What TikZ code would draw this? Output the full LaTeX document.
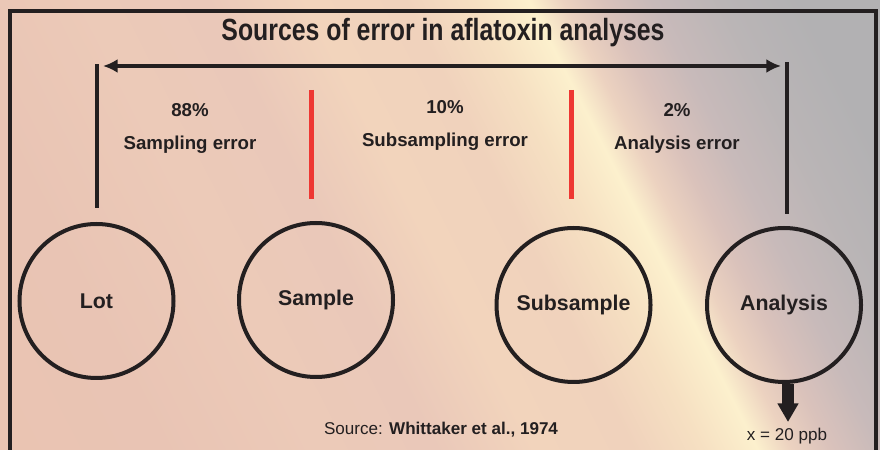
\documentclass[tikz,border=0pt]{standalone}
\usepackage{fontspec}
\setmainfont{Liberation Sans}
\newfontfamily\titulofont[FakeStretch=0.81]{Liberation Sans}
\usetikzlibrary{positioning}
\usetikzlibrary{arrows.meta}
\usetikzlibrary{calc}
\definecolor{figTinta}{RGB}{35,31,32}
\definecolor{figRojo}{RGB}{238,55,50}
\definecolor{fondoA}{RGB}{234,196,178}
\definecolor{fondoB}{RGB}{233,196,180}
\definecolor{fondoC}{RGB}{236,202,184}
\definecolor{fondoD}{RGB}{234,200,185}
\definecolor{fondoE}{RGB}{242,212,188}
\definecolor{fondoF}{RGB}{240,210,188}
\definecolor{fondoG}{RGB}{246,224,194}
\definecolor{fondoH}{RGB}{252,240,205}
\definecolor{fondoI}{RGB}{236,210,192}
\definecolor{fondoJ}{RGB}{218,194,187}
\definecolor{fondoK}{RGB}{200,186,186}
\definecolor{fondoL}{RGB}{186,181,182}
\definecolor{fondoM}{RGB}{178,177,179}
\pgfdeclarehorizontalshading{fondo}{100bp}{%
  color(0bp)=(fondoA); color(22bp)=(fondoA); color(30bp)=(fondoB);
  color(38bp)=(fondoC); color(44bp)=(fondoD); color(49bp)=(fondoE);
  color(54bp)=(fondoF); color(57.5bp)=(fondoG); color(60.3bp)=(fondoH);
  color(62bp)=(fondoI); color(64bp)=(fondoJ); color(66.5bp)=(fondoK);
  color(70bp)=(fondoL); color(74bp)=(fondoM); color(100bp)=(fondoM)}
\tikzset{
  etapa/.style={
    circle, draw=figTinta, line width=3pt, minimum size=115.5pt,
    inner sep=0pt, text=figTinta, font=\bfseries\fontsize{16}{19}\selectfont
  },
  rotulo/.style={
    inner sep=0pt, text=figTinta, font=\bfseries\fontsize{14}{17}\selectfont
  },
  nota/.style={
    inner sep=0pt, text=figTinta, font=\fontsize{12.8}{15}\selectfont
  },
  titulo/.style={
    inner sep=0pt, text=figTinta, font=\titulofont\bfseries\fontsize{23}{27}\selectfont
  },
  marco/.style={draw=figTinta, line width=3pt},
  barra/.style={draw=figTinta, line width=3pt},
  barraroja/.style={draw=figRojo, line width=3.75pt},
  flechadoble/.style={{Latex[length=11pt,width=10.5pt]}-{Latex[length=11pt,width=10.5pt]}, line width=3pt, draw=figTinta},
  flechagruesa/.style={-{Triangle[length=14pt,width=15pt]}, line width=9pt, draw=figTinta}
}
\begin{document}
\begin{tikzpicture}[x=0.75pt,y=0.75pt]
  \useasboundingbox (0,0) rectangle (880,449);
  \clip (0,0) rectangle (880,449);
  \shade[shading=fondo, shading angle=27] (0,-215.5) rectangle (880,664.5);
  \draw[marco] (10,-10) |- (876,438) -- (876,-10);

  \node[titulo] (titulo) at (443,416) {Sources of error in aflatoxin analyses};

  % etapas
  \node[etapa] (lot) at (96.5,148) {Lot};
  \node[etapa] (sample) at (316,149) {Sample};
  \node[etapa] (subsample) at (573.5,144) {Subsample};
  \node[etapa] (analysis) at (784,144) {Analysis};

  % barras y flecha superior
  \coordinate (izq) at (97,385);
  \coordinate (der) at (787,387);
  \draw[barra] ($(lot.north)+(0.5,14)$) -- (izq);
  \draw[barra] ($(analysis.north)+(3,12)$) -- (der);
  \draw[flechadoble] (103,383) coordinate (flechaizq) -- (781,383) coordinate (flechader);
  \draw[barraroja] (311,359) -- (311,250);
  \draw[barraroja] (571,359) -- (571,250);

  % porcentajes
  \node[rotulo] (pctlot) at (190,339) {88\%};
  \node[rotulo] (errlot) at (190,304) {Sampling error};
  \node[rotulo] (pctsub) at (445,342) {10\%};
  \node[rotulo] (errsub) at (445,307) {Subsampling error};
  \node[rotulo] (pctana) at (677,339) {2\%};
  \node[rotulo] (errana) at (677,304) {Analysis error};

  % resultado
  \coordinate (punta) at (788,27);
  \draw[flechagruesa] (punta |- analysis.south) -- (punta);
  \node[nota] (ppb) at (787,13) {x = 20 ppb};
  \node[nota] (fuente) at (441,19) {Source: \textbf{Whittaker et al., 1974}};
\end{tikzpicture}
\end{document}
